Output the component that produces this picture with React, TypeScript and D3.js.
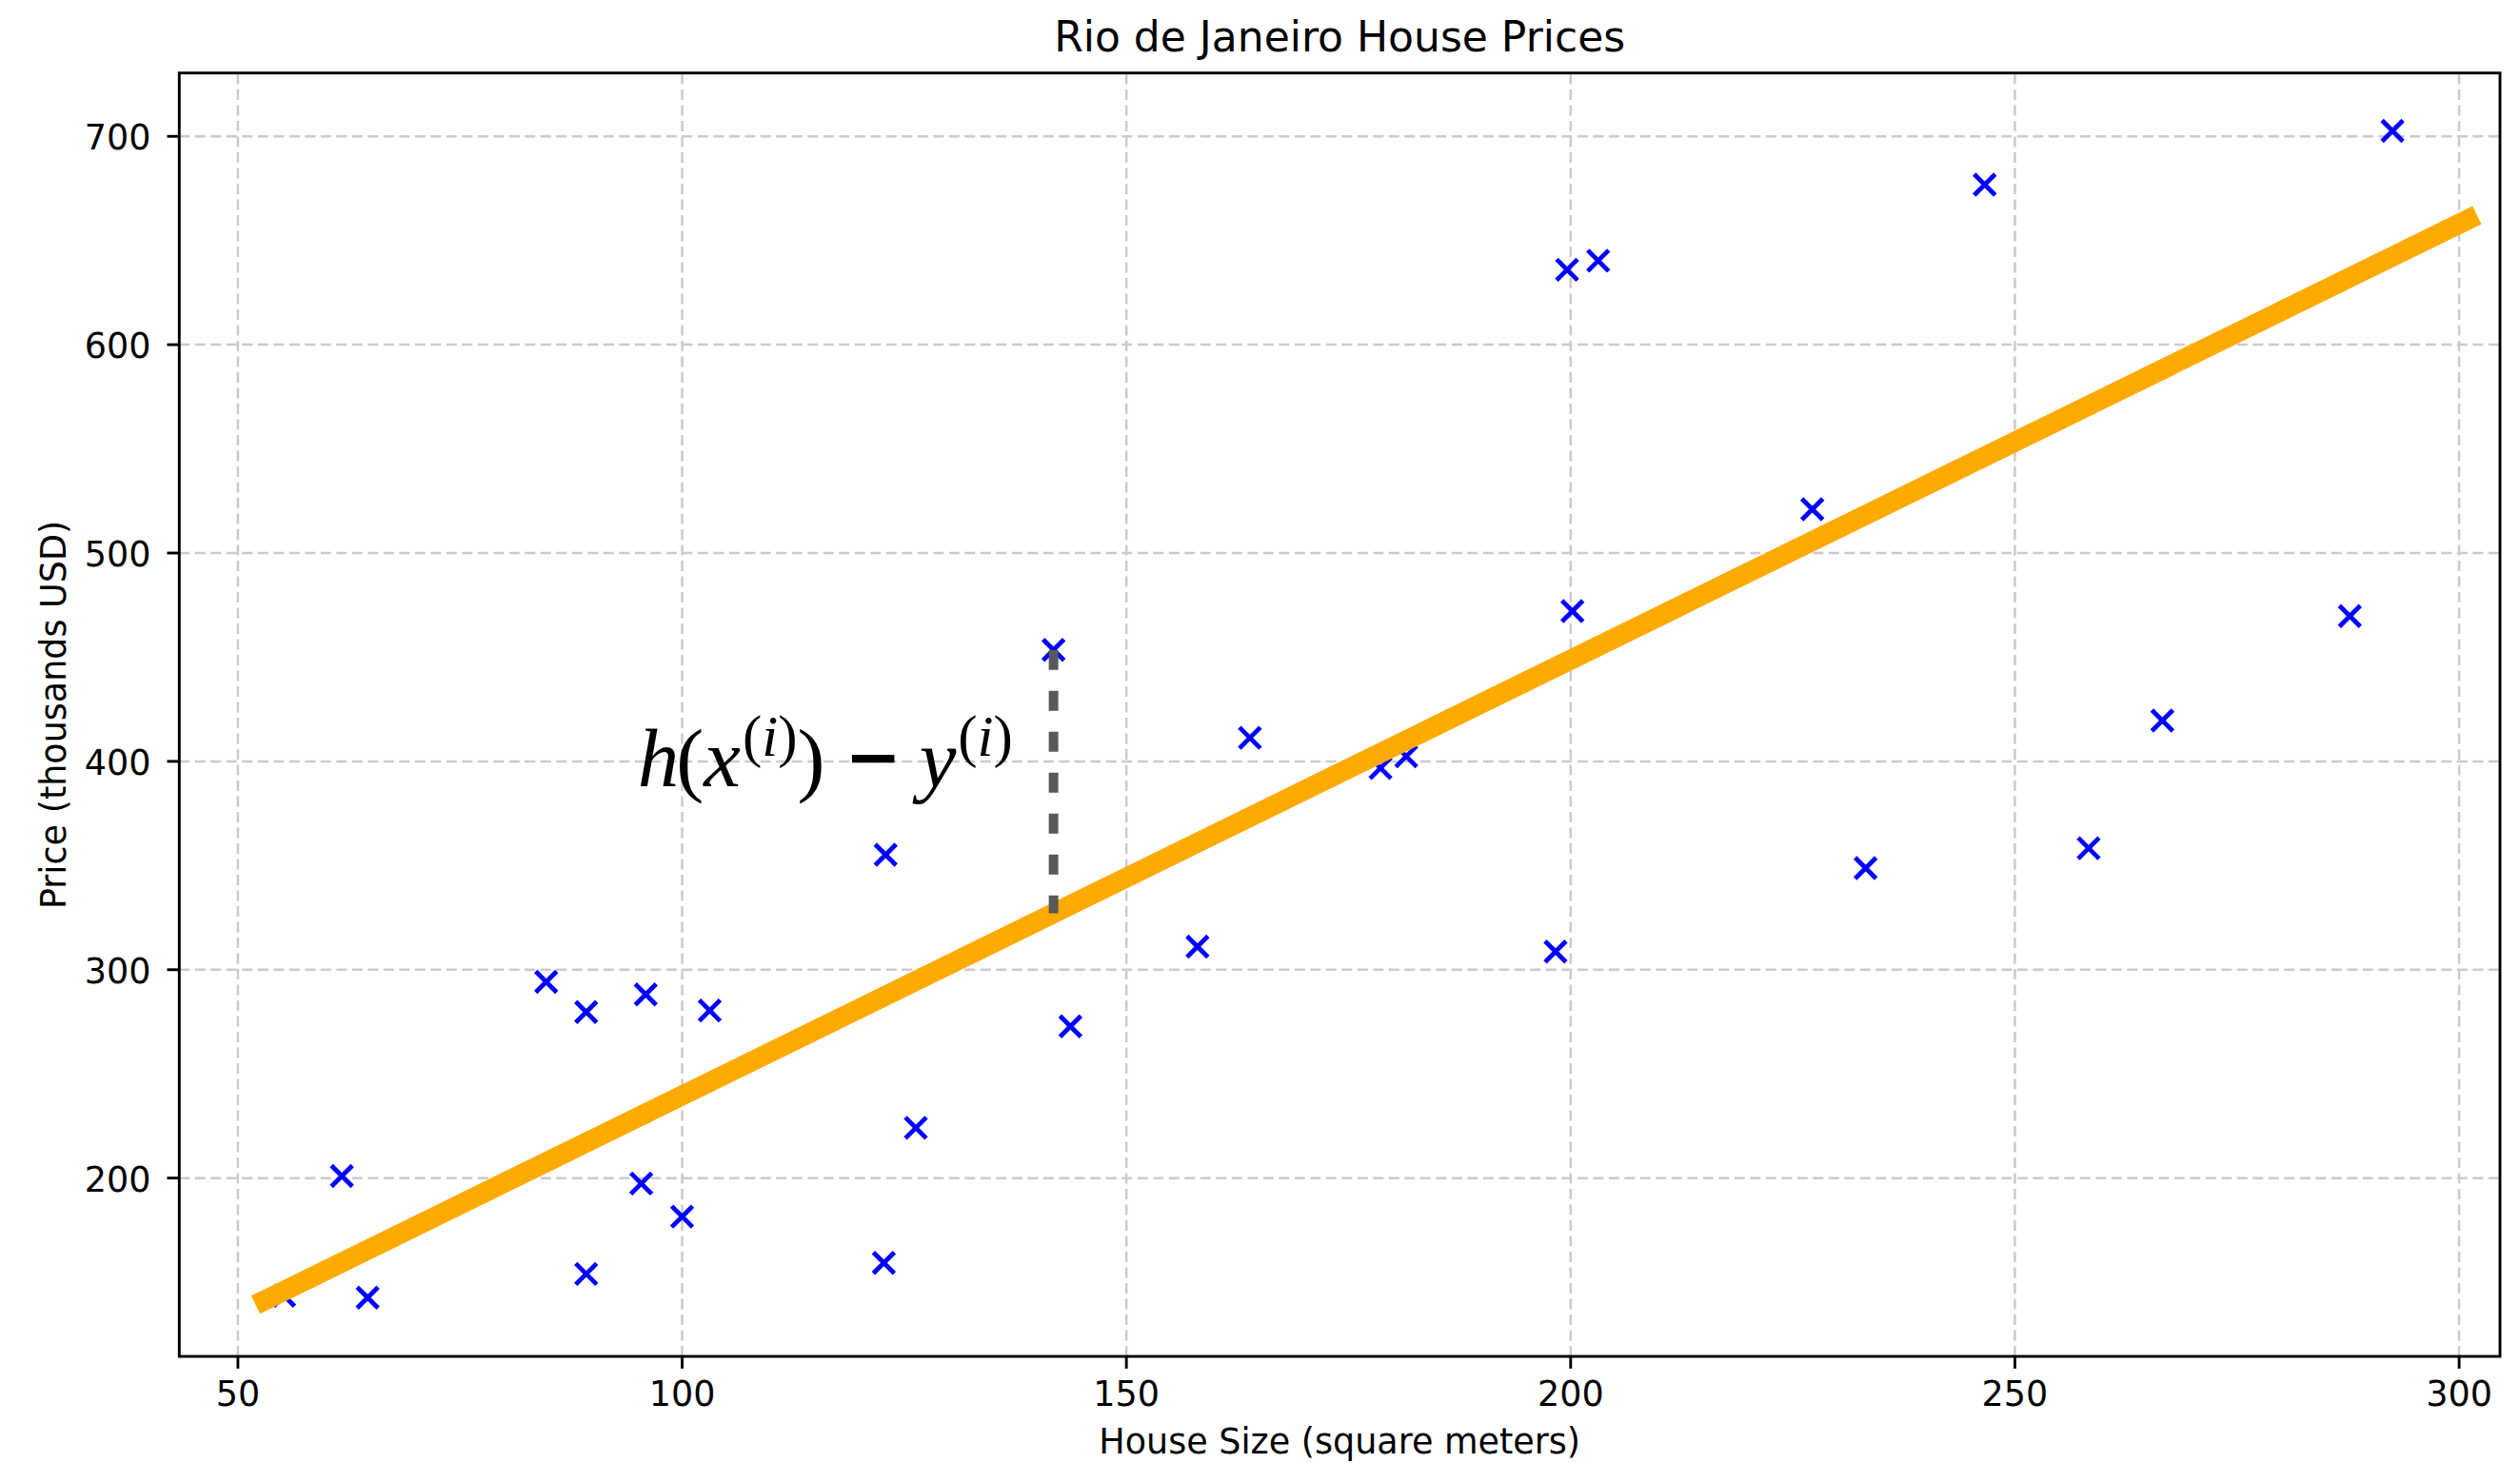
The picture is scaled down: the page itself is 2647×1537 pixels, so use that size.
import React from "react";
import * as d3 from "d3";

// Observed houses: size (m²) and price (thousands USD)
const houseSize = [
  55.2, 61.7, 64.6, 84.7, 89.2, 89.2, 95.9, 95.4, 100.0, 103.1,
  122.9, 122.7, 126.3, 143.7, 141.8, 158.0, 163.9, 178.6, 181.5, 198.3,
  200.2, 199.6, 203.1, 227.2, 233.2, 246.6, 258.3, 266.6, 287.7, 292.5,
];
const housePrice = [
  143.5, 201.0, 142.6, 294.2, 279.7, 154.0, 288.1, 197.4, 181.5, 280.4,
  355.2, 159.3, 224.1, 272.8, 453.5, 311.1, 411.3, 396.8, 402.4, 308.7,
  472.1, 636.0, 640.3, 521.0, 348.8, 676.8, 358.3, 419.6, 469.7, 702.6,
];

// Hypothesis h(x) = theta0 + theta1 * x, drawn over this size range
const theta0 = 30.4;
const theta1 = 2.092;
const fitRange = [53, 301];

// Sample whose residual is highlighted
const residualIndex = 14;

const xTicks = [50, 100, 150, 200, 250, 300];
const yTicks = [200, 300, 400, 500, 600, 700];
const xDomain = [43.4, 304.6];
const yDomain = [114.4, 730.4];

const formulaAnchor = [95.0, 388.1];

const W = 2647;
const H = 1537;
const frame = { left: 188.3, right: 2626, top: 76.7, bottom: 1425 };
const SANS = "'DejaVu Sans', sans-serif";
const SERIF = "'Liberation Serif', 'Times New Roman', serif";

export default function App() {
  const x = d3.scaleLinear().domain(xDomain).range([frame.left, frame.right]);
  const y = d3.scaleLinear().domain(yDomain).range([frame.bottom, frame.top]);
  const h = (v: number) => theta0 + theta1 * v;

  const fitPath = d3
    .line<number>()
    .x((d) => x(d))
    .y((d) => y(h(d)))(fitRange) as string;

  const points = houseSize.map((s, i) => ({ s, p: housePrice[i] }));
  const half = 11;
  const crossPath = (cx: number, cy: number) =>
    `M${cx - half},${cy - half}L${cx + half},${cy + half}M${cx - half},${cy + half}L${cx + half},${cy - half}`;

  const rs = houseSize[residualIndex];
  const rp = housePrice[residualIndex];

  const tickLen = 12.8;
  const axisW = 2.9;
  const tickFont = 36.5;

  const fx = x(formulaAnchor[0]);
  const fy = y(formulaAnchor[1]);
  const fSize = 87;
  const supSize = 61;
  const supRise = 32;

  return (
    <svg
      width={W}
      height={H}
      viewBox={`0 0 ${W} ${H}`}
      style={{ position: "absolute", left: 0, top: 0, background: "#fff" }}
    >
      <rect x={0} y={0} width={W} height={H} fill="#fff" />

      {/* grid */}
      <g stroke="#cbcbcb" strokeWidth={2.5} strokeDasharray="11 5.5" fill="none">
        {xTicks.map((t) => (
          <line key={`gx${t}`} x1={x(t)} x2={x(t)} y1={frame.bottom} y2={frame.top} />
        ))}
        {yTicks.map((t) => (
          <line key={`gy${t}`} x1={frame.left} x2={frame.right} y1={y(t)} y2={y(t)} />
        ))}
      </g>

      {/* observations */}
      <g stroke="#0000ff" strokeWidth={4.8} fill="none">
        {points.map((d, i) => (
          <path key={i} d={crossPath(x(d.s), y(d.p))} />
        ))}
      </g>

      {/* fitted hypothesis */}
      <path d={fitPath} stroke="#ffaa00" strokeWidth={21} fill="none" strokeLinecap="square" />

      {/* residual for the highlighted sample */}
      <line
        x1={x(rs)}
        x2={x(rs)}
        y1={y(rp)}
        y2={y(h(rs))}
        stroke="#595959"
        strokeWidth={10}
        strokeDasharray="21 22"
      />

      {/* formula annotation */}
      <text x={fx} y={fy} fontFamily={SERIF} fontSize={fSize} fill="#000">
        <tspan fontStyle="italic">h</tspan>
        <tspan dx={-3}>(</tspan>
        <tspan fontStyle="italic">x</tspan>
        <tspan fontSize={supSize} dy={-supRise} dx={2}>(</tspan>
        <tspan fontSize={supSize} fontStyle="italic">i</tspan>
        <tspan fontSize={supSize}>)</tspan>
        <tspan dy={supRise}>)</tspan>
        <tspan dx={26} stroke="#000" strokeWidth={4}>{"\u2212"}</tspan>
        <tspan dx={24} fontStyle="italic">y</tspan>
        <tspan fontSize={supSize} dy={-supRise} dx={2}>(</tspan>
        <tspan fontSize={supSize} fontStyle="italic">i</tspan>
        <tspan fontSize={supSize}>)</tspan>
      </text>

      {/* frame */}
      <rect
        x={frame.left}
        y={frame.top}
        width={frame.right - frame.left}
        height={frame.bottom - frame.top}
        fill="none"
        stroke="#000"
        strokeWidth={axisW}
      />

      {/* x axis */}
      <g fontFamily={SANS} fontSize={tickFont} fill="#000" textAnchor="middle">
        {xTicks.map((t) => (
          <g key={`xt${t}`}>
            <line x1={x(t)} x2={x(t)} y1={frame.bottom} y2={frame.bottom + tickLen} stroke="#000" strokeWidth={axisW} />
            <text x={x(t)} y={frame.bottom + 52}>{t}</text>
          </g>
        ))}
      </g>

      {/* y axis */}
      <g fontFamily={SANS} fontSize={tickFont} fill="#000" textAnchor="end">
        {yTicks.map((t) => (
          <g key={`yt${t}`}>
            <line x1={frame.left - tickLen} x2={frame.left} y1={y(t)} y2={y(t)} stroke="#000" strokeWidth={axisW} />
            <text x={frame.left - 29.8} y={y(t) + 14}>{t}</text>
          </g>
        ))}
      </g>

      <text
        x={(frame.left + frame.right) / 2}
        y={1527}
        fontFamily={SANS}
        fontSize={tickFont}
        textAnchor="middle"
        fill="#000"
      >
        House Size (square meters)
      </text>

      <text
        transform={`translate(68.9, ${(frame.top + frame.bottom) / 2}) rotate(-90)`}
        fontFamily={SANS}
        fontSize={tickFont}
        textAnchor="middle"
        fill="#000"
      >
        Price (thousands USD)
      </text>

      <text
        x={(frame.left + frame.right) / 2}
        y={53.5}
        fontFamily={SANS}
        fontSize={44}
        textAnchor="middle"
        fill="#000"
      >
        Rio de Janeiro House Prices
      </text>
    </svg>
  );
}
